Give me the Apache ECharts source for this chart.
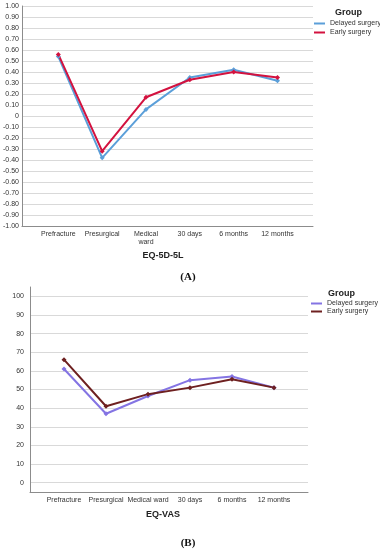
<!DOCTYPE html>
<html><head><meta charset="utf-8">
<script src="https://cdn.jsdelivr.net/npm/echarts@6/dist/echarts.min.js"></script>
<style>html,body{margin:0;padding:0;background:#fff}#c{width:380px;height:550px}</style>
</head><body><div id="c"></div>
<script>
const categories = ['Prefracture','Presurgical','Medical ward','30 days','6 months','12 months'];
const seriesNames = ['Delayed surgery','Early surgery'];
const eq5dDelayed = [0.54, -0.38, 0.06, 0.35, 0.42, 0.32];
const eq5dEarly   = [0.56, -0.32, 0.17, 0.33, 0.40, 0.35];
const vasDelayed  = [61, 37, 46.5, 55, 57, 51];
const vasEarly    = [66, 41, 47.5, 51, 55.5, 51];
const eq5dTicks = [];
for (let k = -10; k <= 10; k++) eq5dTicks.push(k / 10);
const vasTicks = [0,10,20,30,40,50,60,70,80,90,100];

const topColors = ['#5b9fd9', '#d3123f'];
const botColors = ['#8474e3', '#6e2020'];
const catIdx = categories.map((_, i) => i);
const pts = arr => arr.map((v, i) => [i, v]);

const chart = echarts.init(document.getElementById('c'), null, {renderer: 'canvas'});
const FF = 'Liberation Sans, Arial, sans-serif';
const lbl = {color: '#333', fontSize: 7, fontFamily: FF};
const mkSeries = (name, data, color, idx) => ({
  name, type: 'line', xAxisIndex: idx, yAxisIndex: idx, data,
  symbol: 'diamond', symbolSize: 5, showSymbol: true,
  lineStyle: {color, width: 2}, itemStyle: {color}, emphasis: {disabled: true}, animation: false
});
chart.setOption({
  animation: false,
  grid: [
    {left: 17, right: 67, top: 6, bottom: 324},
    {left: 30, right: 72, top: 287, bottom: 58}
  ],
  xAxis: [
    {gridIndex: 0, type: 'value', min: -0.83, max: 5.81,
     axisLine: {show: true, onZero: false, lineStyle: {color: '#8c8c8c', width: 1}},
     axisTick: {show: false}, splitLine: {show: false},
     axisLabel: Object.assign({customValues: catIdx, margin: 4, lineHeight: 8,
       formatter: v => categories[Math.round(v)] === 'Medical ward' ? 'Medical\nward' : (categories[Math.round(v)] || '')}, lbl)},
    {gridIndex: 1, type: 'value', min: -0.81, max: 5.81,
     axisLine: {show: true, onZero: false, lineStyle: {color: '#8c8c8c', width: 1}},
     axisTick: {show: false}, splitLine: {show: false},
     axisLabel: Object.assign({customValues: catIdx, margin: 5,
       formatter: v => categories[Math.round(v)] || ''}, lbl)}
  ],
  yAxis: [
    {gridIndex: 0, type: 'value', min: -1, max: 1,
     axisLine: {show: true, onZero: false, lineStyle: {color: '#8c8c8c'}},
     axisTick: {show: false, customValues: eq5dTicks},
     splitLine: {show: true, lineStyle: {color: '#d9d9d9', width: 1}},
     axisLabel: Object.assign({customValues: eq5dTicks, margin: 3,
       formatter: v => Math.abs(v) < 1e-9 ? '0' : v.toFixed(2)}, lbl)},
    {gridIndex: 1, type: 'value', min: -5, max: 105,
     axisLine: {show: true, onZero: false, lineStyle: {color: '#8c8c8c'}},
     axisTick: {show: false, customValues: vasTicks},
     splitLine: {show: true, lineStyle: {color: '#d9d9d9', width: 1}},
     axisLabel: Object.assign({customValues: vasTicks, margin: 6}, lbl)}
  ],
  legend: [
    {orient: 'vertical', left: 314, top: 20, padding: 0, itemWidth: 11, itemHeight: 2, itemGap: 2, icon: 'rect',
     textStyle: lbl,
     data: seriesNames.map((n, i) => ({name: n, itemStyle: {color: topColors[i]}})), selectedMode: false},
    {orient: 'vertical', left: 311, top: 300, padding: 0, itemWidth: 11, itemHeight: 2, itemGap: 1, icon: 'rect',
     textStyle: lbl,
     data: seriesNames.map((n, i) => ({name: n, itemStyle: {color: botColors[i]}})), selectedMode: false}
  ],
  series: [
    mkSeries(seriesNames[0], pts(eq5dDelayed), topColors[0], 0),
    mkSeries(seriesNames[1], pts(eq5dEarly), topColors[1], 0),
    mkSeries(seriesNames[0], pts(vasDelayed), botColors[0], 1),
    mkSeries(seriesNames[1], pts(vasEarly), botColors[1], 1)
  ],
  graphic: [
    {type: 'text', x: 335, y: 8, style: {text: 'Group', fontSize: 9, fontWeight: 'bold', fill: '#222', fontFamily: FF}},
    {type: 'text', x: 328, y: 289, style: {text: 'Group', fontSize: 9, fontWeight: 'bold', fill: '#222', fontFamily: FF}},
    {type: 'text', x: 163, y: 256, style: {text: 'EQ-5D-5L', fontSize: 9, fontWeight: 'bold', fill: '#222', align: 'center', verticalAlign: 'middle', fontFamily: FF}},
    {type: 'text', x: 188, y: 277, style: {text: '(A)', fontSize: 11, fontWeight: 'bold', fill: '#111', align: 'center', verticalAlign: 'middle', fontFamily: 'Liberation Serif, Times New Roman, serif'}},
    {type: 'text', x: 163, y: 515, style: {text: 'EQ-VAS', fontSize: 9, fontWeight: 'bold', fill: '#222', align: 'center', verticalAlign: 'middle', fontFamily: FF}},
    {type: 'text', x: 188, y: 543, style: {text: '(B)', fontSize: 11, fontWeight: 'bold', fill: '#111', align: 'center', verticalAlign: 'middle', fontFamily: 'Liberation Serif, Times New Roman, serif'}}
  ]
});
</script></body></html>
